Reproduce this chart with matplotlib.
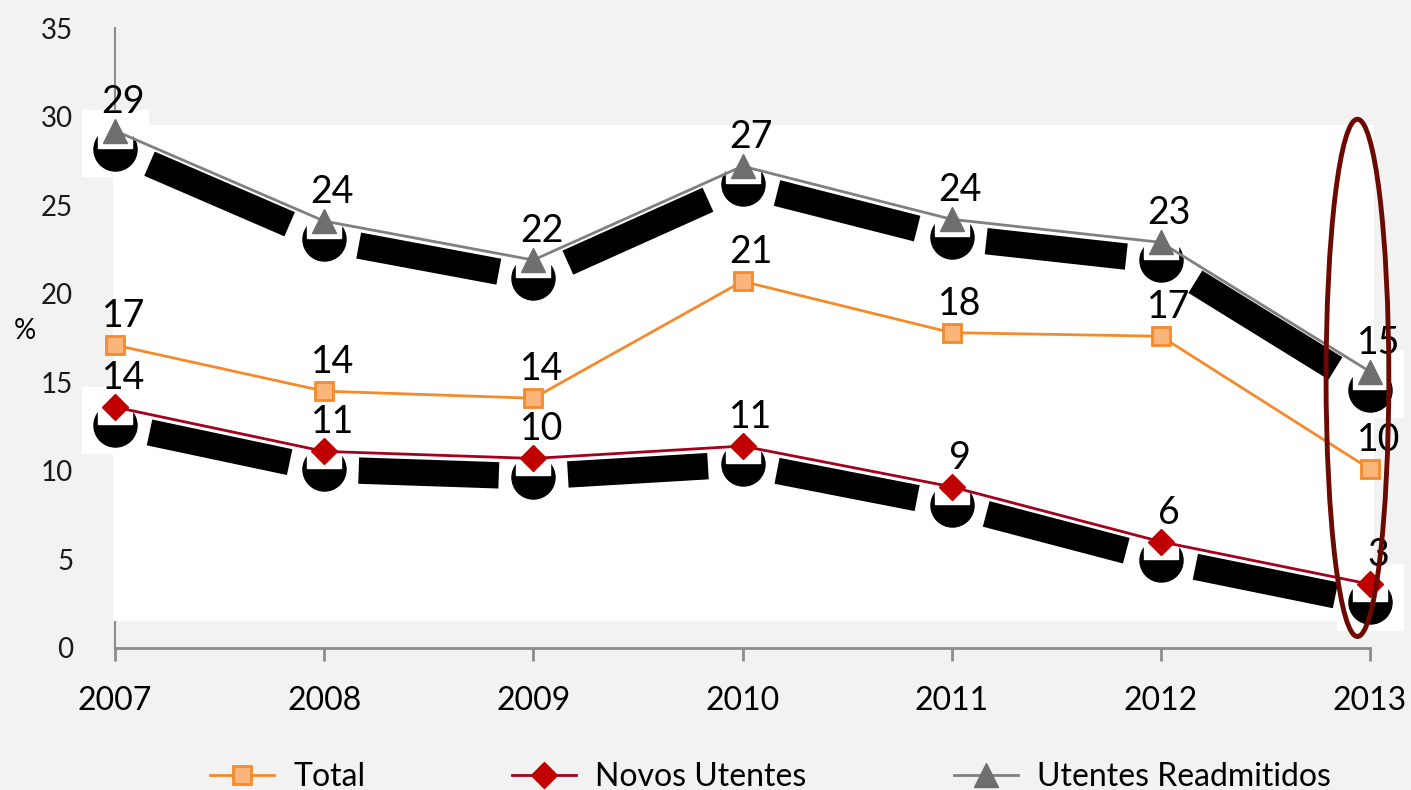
import numpy as np
import matplotlib
matplotlib.use("Agg")
import matplotlib.pyplot as plt
from matplotlib.patches import Rectangle, Ellipse
from matplotlib import transforms

years = [2007, 2008, 2009, 2010, 2011, 2012, 2013]
total = [17.1, 14.5, 14.1, 20.7, 17.8, 17.6, 10.1]
novos = [13.6, 11.1, 10.7, 11.4, 9.1, 6.0, 3.6]
readm = [29.2, 24.1, 21.9, 27.2, 24.2, 22.9, 15.6]
total_lbl = ["17", "14", "14", "21", "18", "17", "10"]
novos_lbl = ["14", "11", "10", "11", "9", "6", "3"]
readm_lbl = ["29", "24", "22", "27", "24", "23", "15"]
yticks = [0, 5, 10, 15, 20, 25, 30, 35]

plt.rcParams['font.family'] = ['Lato', 'DejaVu Sans']
BG = '#f2f2f2'

fig = plt.figure(figsize=(14.11, 7.9), dpi=100, facecolor=BG)
ax = fig.add_axes([115/1411, 1 - 648/790, 1255/1411, 620/790])
ax.set_facecolor(BG)
ax.set_xlim(2007, 2013)
ax.set_ylim(0, 35)

for s in ['top', 'right']:
    ax.spines[s].set_visible(False)
ax.spines['left'].set_color('#8c8c8c')
ax.spines['bottom'].set_color('#8c8c8c')
ax.spines['left'].set_linewidth(1.5)
ax.spines['bottom'].set_linewidth(2)
ax.set_xticks(years)
ax.set_xticklabels([str(y) for y in years], fontsize=23)
ax.set_yticks(yticks)
ax.set_yticklabels([str(v) for v in yticks], fontsize=20, color='#1a1a1a')
ax.tick_params(axis='x', direction='out', length=9, width=2, color='#8c8c8c', pad=18)
ax.tick_params(axis='y', length=0, pad=30)
ax.set_ylabel('%', fontsize=20, rotation=0)
ax.yaxis.set_label_coords(-0.072, 0.49)

# white plot area (rendering artefact in the original)
ax.add_patch(Rectangle((2006.99, 1.5), 6.03, 28.0, facecolor='white',
                       edgecolor='none', zorder=2.6, clip_on=False))

shadow_dn = transforms.offset_copy(ax.transData, fig=fig, y=-13, units='points')
disc_dn = transforms.offset_copy(ax.transData, fig=fig, y=-13, units='points')
box_dn = transforms.offset_copy(ax.transData, fig=fig, y=-9, units='points')

def shadow(vals):
    ax.plot(years, vals, 's', ms=48, color='white', transform=box_dn,
            zorder=2.7, clip_on=False)
    gap = 0.165
    for i in range(len(years) - 1):
        x0, x1 = years[i] + gap, years[i + 1] - gap
        y0 = np.interp(x0, years, vals)
        y1 = np.interp(x1, years, vals)
        ax.plot([x0, x1], [y0, y1], color='black', lw=19, solid_capstyle='butt',
                transform=shadow_dn, zorder=2.8, clip_on=False)
    ax.plot(years, vals, 'o', ms=31, color='black', transform=disc_dn,
            zorder=2.9, clip_on=False)
    ax.plot(years, vals, 's', ms=24, color='white', zorder=2.95, clip_on=False)

shadow(readm)
shadow(novos)

l1, = ax.plot(years, total, color='#f58a2b', lw=2, marker='s', ms=13,
              mfc='#fab57a', mec='#f58a2b', mew=2, zorder=4, clip_on=False, label='Total')
l2, = ax.plot(years, novos, color='#a5001c', lw=2, marker='D', ms=13,
              mfc='#c00000', mec='#c00000', zorder=4, clip_on=False, label='Novos Utentes')
l3, = ax.plot(years, readm, color='#808080', lw=2, marker='^', ms=17,
              mfc='#6e6e6e', mec='#6e6e6e', zorder=4, clip_on=False, label='Utentes Readmitidos')

for vals, lbls in [(total, total_lbl), (novos, novos_lbl), (readm, readm_lbl)]:
    for x, v, t in zip(years, vals, lbls):
        ax.annotate(t, (x, v), xytext=(6, 8), textcoords='offset points',
                    ha='center', va='bottom', fontsize=27, color='black',
                    zorder=5, annotation_clip=False)

ax.add_patch(Ellipse((2012.94, 15.25), 0.30, 29.2, facecolor='none',
                     edgecolor='#6b0a00', lw=3.5, zorder=6, clip_on=False))

fig.legend(handles=[l1, l2, l3], loc='center', bbox_to_anchor=(0.546, 0.016),
           ncol=3, frameon=False, fontsize=23, handlelength=2.0,
           columnspacing=4.6, handletextpad=0.6)

fig.savefig('out.png', dpi=100, facecolor=BG)
